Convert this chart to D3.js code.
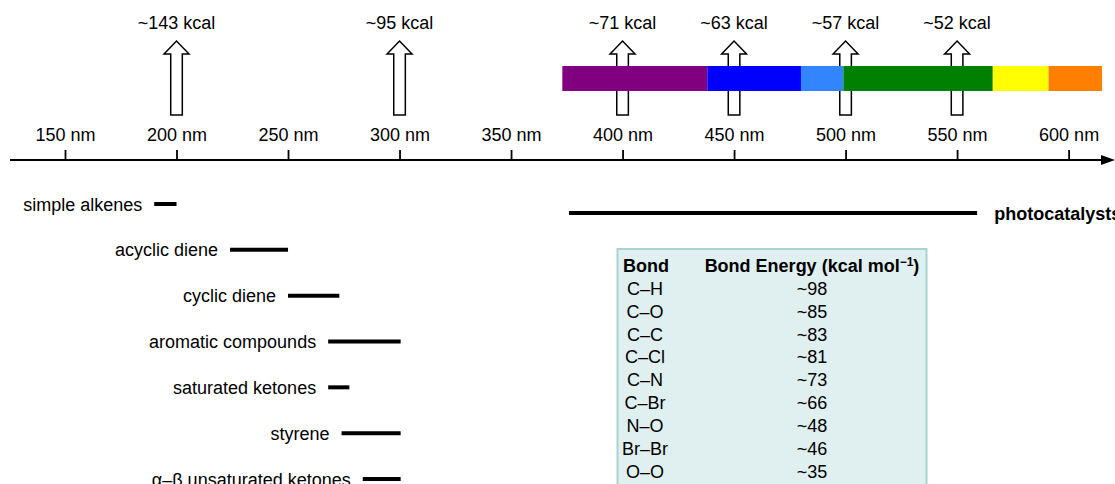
<!DOCTYPE html>
<html>
<head>
<meta charset="utf-8">
<script src="https://cdn.jsdelivr.net/npm/d3@7"></script>
<style>
  html, body { margin: 0; padding: 0; background: #fff; }
  svg { display: block; font-family: "Liberation Sans", Arial, sans-serif; }
</style>
</head>
<body>
<div id="chart"></div>
<script>
// wavelength axis
var tickNm = [150, 200, 250, 300, 350, 400, 450, 500, 550, 600];

// energy arrows
var arrowNm = [200, 300, 400, 450, 500, 550];
var arrowLabels = ["~143 kcal", "~95 kcal", "~71 kcal", "~63 kcal", "~57 kcal", "~52 kcal"];

// visible spectrum band (nm boundaries)
var spectrumStops = [373, 438, 480, 499, 566, 591, 615];
var spectrumColors = ["#800080", "#0000ff", "#3385ff", "#008000", "#ffff00", "#ff8000"];

// absorption ranges
var compounds = ["simple alkenes", "acyclic diene", "cyclic diene", "aromatic compounds",
                 "saturated ketones", "styrene", "\u03b1\u2013\u03b2 unsaturated ketones"];
var compStart = [190, 224, 250, 268, 268, 274, 283.5];
var compEnd   = [200, 250, 273, 300.5, 277.5, 300.5, 300.5];

var photoLabel = "photocatalysts";
var photoRange = [376, 559];

// bond table
var bonds = ["C\u2013H", "C\u2013O", "C\u2013C", "C\u2013Cl", "C\u2013N", "C\u2013Br", "N\u2013O", "Br\u2013Br", "O\u2013O"];
var bondEnergies = ["~98", "~85", "~83", "~81", "~73", "~66", "~48", "~46", "~35"];

var W = 1115, H = 484;
var fs = 18;

var svg = d3.select("#chart").append("svg")
  .attr("width", W).attr("height", H);

var x = d3.scaleLinear().domain([150, 600]).range([65, 1068.6]);
var axisY = 160;

// ---- energy arrows (drawn first, the colour band covers them)
var tipY = 41, headY = 54, botY = 115, headHW = 12.5, shaftHW = 5.8;
function arrowPath(cx) {
  return "M" + (cx - shaftHW) + "," + botY +
    "L" + (cx - shaftHW) + "," + headY +
    "L" + (cx - headHW) + "," + headY +
    "L" + cx + "," + tipY +
    "L" + (cx + headHW) + "," + headY +
    "L" + (cx + shaftHW) + "," + headY +
    "L" + (cx + shaftHW) + "," + botY + "Z";
}
svg.selectAll("path.earrow")
  .data(arrowNm).enter().append("path")
  .attr("class", "earrow")
  .attr("d", function(d) { return arrowPath(x(d)); })
  .attr("fill", "#fff").attr("stroke", "#000").attr("stroke-width", 1.5)
  .attr("stroke-linejoin", "miter");

svg.selectAll("text.kcal")
  .data(arrowNm).enter().append("text")
  .attr("class", "kcal")
  .attr("x", function(d) { return x(d); })
  .attr("y", 29)
  .attr("text-anchor", "middle")
  .attr("font-size", fs)
  .text(function(d, i) { return arrowLabels[i]; });

// ---- spectrum band
svg.selectAll("rect.band")
  .data(spectrumColors).enter().append("rect")
  .attr("class", "band")
  .attr("x", function(d, i) { return x(spectrumStops[i]); })
  .attr("width", function(d, i) { return x(spectrumStops[i + 1]) - x(spectrumStops[i]); })
  .attr("y", 66).attr("height", 25)
  .attr("fill", function(d) { return d; });

// ---- axis
var axis = d3.axisTop(x).tickValues(tickNm).tickSize(10).tickPadding(9)
  .tickFormat(function(d) { return d + " nm"; });
var gAxis = svg.append("g").attr("transform", "translate(0," + axisY + ")").call(axis);
gAxis.select(".domain").remove();
gAxis.selectAll(".tick line").attr("stroke", "#000").attr("stroke-width", 1.8);
gAxis.selectAll(".tick text").attr("fill", "#000").attr("font-size", fs)
  .attr("font-family", "Liberation Sans, Arial, sans-serif");

svg.append("line")
  .attr("x1", 10).attr("x2", 1104).attr("y1", axisY).attr("y2", axisY)
  .attr("stroke", "#000").attr("stroke-width", 2);
svg.append("path")
  .attr("d", "M1101," + (axisY - 5) + "L1115," + axisY + "L1101," + (axisY + 5) + "Z")
  .attr("fill", "#000");

// ---- compound ranges
var yComp = d3.scalePoint().domain(compounds).range([204, 479]);
var gComp = svg.append("g");
gComp.selectAll("line")
  .data(compounds).enter().append("line")
  .attr("x1", function(d, i) { return x(compStart[i]); })
  .attr("x2", function(d, i) { return x(compEnd[i]); })
  .attr("y1", function(d) { return yComp(d); })
  .attr("y2", function(d) { return yComp(d); })
  .attr("stroke", "#000").attr("stroke-width", 4);
gComp.selectAll("text")
  .data(compounds).enter().append("text")
  .attr("x", function(d, i) { return x(compStart[i]) - 12; })
  .attr("y", function(d) { return yComp(d) + 6.5; })
  .attr("text-anchor", "end")
  .attr("font-size", fs)
  .text(function(d) { return d; });

// photocatalysts
svg.append("line")
  .attr("x1", x(photoRange[0])).attr("x2", x(photoRange[1]))
  .attr("y1", 213).attr("y2", 213)
  .attr("stroke", "#000").attr("stroke-width", 4);
svg.append("text")
  .attr("x", x(photoRange[1]) + 17).attr("y", 219.5)
  .attr("font-size", fs).attr("font-weight", "bold")
  .text(photoLabel);

// ---- bond table
svg.append("rect")
  .attr("x", 617.5).attr("y", 249).attr("width", 309).attr("height", 260)
  .attr("fill", "#e0efef").attr("stroke", "#a8d4d4").attr("stroke-width", 2);

var colBond = 645, colEnergy = 812;
svg.append("text").attr("x", 623).attr("y", 272)
  .attr("font-size", fs).attr("font-weight", "bold").text("Bond");
var hdr = svg.append("text").attr("x", colEnergy).attr("y", 272)
  .attr("text-anchor", "middle")
  .attr("font-size", fs).attr("font-weight", "bold");
hdr.append("tspan").text("Bond Energy (kcal mol");
hdr.append("tspan").attr("dy", -6).attr("font-size", 12).text("\u22121");
hdr.append("tspan").attr("dy", 6).text(")");

var yRow = d3.scalePoint().domain(bonds).range([295, 477.5]);
svg.selectAll("text.bond")
  .data(bonds).enter().append("text")
  .attr("class", "bond")
  .attr("x", colBond).attr("y", function(d) { return yRow(d); })
  .attr("text-anchor", "middle").attr("font-size", fs)
  .text(function(d) { return d; });
svg.selectAll("text.energy")
  .data(bonds).enter().append("text")
  .attr("class", "energy")
  .attr("x", colEnergy).attr("y", function(d) { return yRow(d); })
  .attr("text-anchor", "middle").attr("font-size", fs)
  .text(function(d, i) { return bondEnergies[i]; });
</script>
</body>
</html>
